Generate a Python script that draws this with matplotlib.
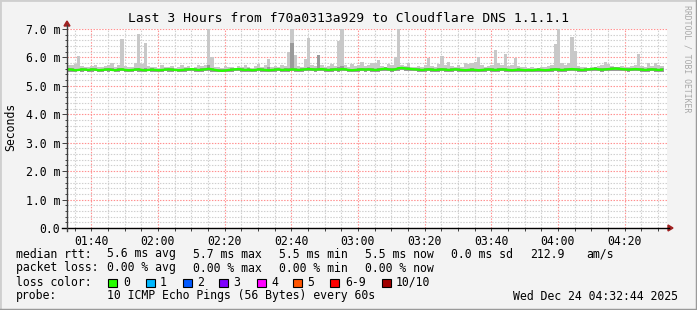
import numpy as np
import matplotlib
matplotlib.use("Agg")
import matplotlib.pyplot as plt
from matplotlib.lines import Line2D
from matplotlib.patches import Polygon, Rectangle
from matplotlib.ticker import MultipleLocator, FuncFormatter

W, H = 697, 310
nan = np.nan

# start of the 3 hour window, minutes after midnight (01:32:44)
t_start = 92 + 44 / 60.0

# smokeping data, one slot per 60 s step (values in ms)
ping_max = [
    5.72, 5.75, 5.78, 6.05, 5.70, 5.68, 5.66, 5.70, 5.75, 5.68,
    5.66, 5.70, 5.72, 5.82, 5.68, 5.75, 6.66, 5.70, 5.66, 5.68,
    5.80, 6.83, 5.78, 6.52, 5.70, 5.66, 5.68, 5.64, 5.75, 5.68,
    5.66, 5.70, 5.64, 5.68, 5.75, 5.66, 5.70, 5.64, 5.68, 5.75,
    5.70, 5.72, 7.60, 6.00, 5.68, 5.66, 5.64, 5.70, 5.66, 5.68,
    5.64, 5.70, 5.66, 5.72, 5.68, 5.64, 5.70, 5.78, 5.68, 5.73,
    5.93, 5.68, 5.70, 5.66, 5.75, 5.70, 6.20, 7.80, 6.07, 5.70,
    5.68, 5.95, 6.68, 5.72, 5.70, 6.10, 5.72, 5.68, 5.70, 5.78,
    5.70, 6.57, 7.40, 5.72, 5.68, 5.78, 5.70, 5.72, 5.85, 5.70,
    5.72, 5.80, 5.80, 5.90, 5.70, 5.68, 5.78, 5.72, 6.00, 7.50,
    5.72, 5.70, 5.80, 5.68, 5.66, 5.70, 5.68, 5.72, 5.98, 5.70,
    5.68, 5.78, 6.05, 5.72, 5.85, 5.70, 5.66, 5.75, 5.68, 5.80,
    5.78, 5.82, 5.85, 6.00, 5.72, 5.68, 5.70, 5.72, 6.25, 5.80,
    5.72, 6.12, 5.70, 5.72, 5.98, 5.70, 5.66, 5.68, 5.64, 5.66,
    5.62, 5.64, 5.66, 5.68, 5.70, 5.72, 6.47, 7.60, 5.80, 5.72,
    5.80, 6.72, 6.24, 5.70, 5.66, 5.68, 5.64, 5.66, 5.68, 5.70,
    5.72, 5.85, 5.78, 5.70, 5.68, 5.66, 5.70, 5.68, 5.66, 5.70,
    5.72, 6.12, 5.70, 5.68, 5.82, 5.70, 5.80, 5.72, 5.70, nan,
]

ping_hi2 = [
    5.63, 5.62, 5.60, 5.61, 5.63, 5.62, 5.61, 5.63, 5.62, 5.60,
    5.61, 5.62, 5.63, 5.62, 5.60, 5.62, 5.64, 5.61, 5.60, 5.61,
    5.62, 5.64, 5.61, 5.62, 5.61, 5.62, 5.61, 5.60, 5.61, 5.62,
    5.63, 5.62, 5.61, 5.60, 5.61, 5.62, 5.63, 5.64, 5.62, 5.61,
    5.62, 5.63, 5.75, 5.64, 5.61, 5.59, 5.58, 5.59, 5.61, 5.62,
    5.63, 5.64, 5.62, 5.61, 5.62, 5.60, 5.61, 5.63, 5.62, 5.61,
    5.66, 5.61, 5.62, 5.63, 5.61, 5.62, 5.64, 6.50, 5.63, 5.61,
    5.62, 5.63, 5.65, 5.63, 5.62, 6.10, 5.64, 5.62, 5.61, 5.62,
    5.63, 5.66, 5.70, 5.63, 5.61, 5.60, 5.61, 5.62, 5.63, 5.62,
    5.63, 5.62, 5.61, 5.62, 5.64, 5.65, 5.63, 5.62, 5.64, 5.68,
    5.68, 5.66, 5.65, 5.64, 5.63, 5.62, 5.61, 5.62, 5.63, 5.62,
    5.61, 5.62, 5.64, 5.62, 5.61, 5.62, 5.63, 5.62, 5.61, 5.60,
    5.61, 5.62, 5.61, 5.60, 5.61, 5.62, 5.63, 5.62, 5.61, 5.62,
    5.63, 5.62, 5.61, 5.60, 5.61, 5.62, 5.61, 5.60, 5.61, 5.60,
    5.61, 5.62, 5.61, 5.60, 5.61, 5.62, 5.63, 5.62, 5.61, 5.62,
    5.63, 5.64, 5.63, 5.62, 5.61, 5.62, 5.63, 5.64, 5.65, 5.63,
    5.62, 5.63, 5.64, 5.65, 5.66, 5.65, 5.64, 5.63, 5.62, 5.63,
    5.64, 5.63, 5.62, 5.61, 5.62, 5.63, 5.62, 5.61, 5.62, nan,
]

ping_median = [
    5.58, 5.57, 5.55, 5.56, 5.58, 5.57, 5.56, 5.58, 5.57, 5.55,
    5.56, 5.57, 5.58, 5.56, 5.55, 5.57, 5.58, 5.56, 5.55, 5.56,
    5.57, 5.58, 5.56, 5.55, 5.56, 5.57, 5.56, 5.55, 5.56, 5.57,
    5.58, 5.57, 5.56, 5.55, 5.56, 5.57, 5.58, 5.59, 5.57, 5.56,
    5.57, 5.58, 5.60, 5.58, 5.56, 5.54, 5.53, 5.54, 5.56, 5.57,
    5.58, 5.59, 5.57, 5.56, 5.57, 5.55, 5.56, 5.58, 5.57, 5.56,
    5.55, 5.56, 5.57, 5.58, 5.56, 5.57, 5.56, 5.58, 5.57, 5.56,
    5.57, 5.58, 5.59, 5.58, 5.57, 5.58, 5.59, 5.57, 5.56, 5.57,
    5.58, 5.57, 5.59, 5.58, 5.56, 5.55, 5.56, 5.57, 5.58, 5.57,
    5.58, 5.57, 5.56, 5.57, 5.59, 5.60, 5.58, 5.57, 5.58, 5.62,
    5.63, 5.61, 5.60, 5.59, 5.58, 5.57, 5.56, 5.57, 5.58, 5.57,
    5.56, 5.57, 5.58, 5.57, 5.56, 5.57, 5.58, 5.57, 5.56, 5.55,
    5.56, 5.57, 5.56, 5.55, 5.56, 5.57, 5.58, 5.57, 5.56, 5.57,
    5.58, 5.57, 5.56, 5.55, 5.56, 5.57, 5.56, 5.55, 5.56, 5.55,
    5.56, 5.57, 5.56, 5.55, 5.56, 5.57, 5.58, 5.57, 5.56, 5.57,
    5.58, 5.59, 5.58, 5.57, 5.56, 5.57, 5.58, 5.59, 5.60, 5.58,
    5.57, 5.58, 5.59, 5.60, 5.61, 5.60, 5.59, 5.58, 5.57, 5.58,
    5.59, 5.58, 5.57, 5.56, 5.57, 5.58, 5.57, 5.56, 5.57, nan,
]

ping_min = [
    5.50, 5.49, 5.47, 5.51, 5.50, 5.52, 5.50, 5.48, 5.51, 5.50,
    5.49, 5.51, 5.50, 5.52, 5.49, 5.50, 5.51, 5.50, 5.48, 5.50,
    5.51, 5.50, 5.49, 5.50, 5.51, 5.50, 5.49, 5.48, 5.50, 5.51,
    5.50, 5.49, 5.51, 5.50, 5.48, 5.50, 5.51, 5.52, 5.50, 5.49,
    5.50, 5.51, 5.52, 5.50, 5.49, 5.48, 5.47, 5.48, 5.49, 5.50,
    5.51, 5.52, 5.50, 5.49, 5.50, 5.48, 5.49, 5.51, 5.50, 5.49,
    5.48, 5.49, 5.50, 5.51, 5.49, 5.50, 5.49, 5.51, 5.50, 5.49,
    5.50, 5.51, 5.52, 5.51, 5.50, 5.51, 5.52, 5.50, 5.49, 5.50,
    5.51, 5.50, 5.52, 5.51, 5.49, 5.48, 5.49, 5.50, 5.51, 5.50,
    5.51, 5.50, 5.49, 5.50, 5.52, 5.53, 5.51, 5.50, 5.51, 5.54,
    5.55, 5.53, 5.52, 5.52, 5.51, 5.50, 5.49, 5.50, 5.51, 5.50,
    5.49, 5.50, 5.51, 5.50, 5.49, 5.50, 5.51, 5.50, 5.49, 5.48,
    5.49, 5.50, 5.49, 5.48, 5.49, 5.50, 5.51, 5.50, 5.49, 5.50,
    5.51, 5.50, 5.49, 5.48, 5.49, 5.50, 5.49, 5.48, 5.49, 5.48,
    5.49, 5.50, 5.49, 5.48, 5.49, 5.50, 5.51, 5.50, 5.49, 5.50,
    5.51, 5.52, 5.51, 5.50, 5.49, 5.50, 5.51, 5.52, 5.53, 5.51,
    5.50, 5.51, 5.52, 5.53, 5.54, 5.53, 5.52, 5.51, 5.50, 5.51,
    5.52, 5.51, 5.50, 5.49, 5.50, 5.51, 5.50, 5.49, 5.50, nan,
]

title = "Last 3 Hours from f70a0313a929 to Cloudflare DNS 1.1.1.1"
loss_labels = ["0", "1", "2", "3", "4", "5", "6-9", "10/10"]
loss_colors = ["#26ff00", "#00b8ff", "#0059ff", "#7e00ff",
               "#ff00ff", "#ff5500", "#ff0000", "#a10000"]

MONO = "DejaVu Sans Mono"
FS = 8.3


def px(x, y):
    return x / W, 1 - y / H


fig = plt.figure(figsize=(W / 100, H / 100), dpi=100)
fig.patch.set_facecolor("#f3f3f3")

x0, y0 = px(67, 228)
ax = fig.add_axes([x0, y0, 600 / W, 199 / H])
ax.set_facecolor("white")

mx = np.array(ping_max)
hi2 = np.array(ping_hi2)
med = np.array(ping_median)
mn = np.array(ping_min)
t = t_start + np.arange(len(mx))

# smoke
ax.bar(t, mx - mn, bottom=mn, width=1.0, align="edge", color="#c8c8c8",
       linewidth=0, zorder=3)
ax.bar(t, hi2 - mn, bottom=mn, width=1.0, align="edge", color="#9a9a9a",
       linewidth=0, zorder=3)
# median, coloured by loss (all 0 loss)
ax.plot(t + 0.5, med, color=loss_colors[0], lw=1.7, zorder=4,
        solid_joinstyle="miter")

ax.set_xlim(t_start, t_start + 180)
ax.set_ylim(0, 7.0)

ax.xaxis.set_major_locator(MultipleLocator(20))
ax.xaxis.set_minor_locator(MultipleLocator(5))
ax.yaxis.set_major_locator(MultipleLocator(1.0))
ax.yaxis.set_minor_locator(MultipleLocator(0.2))
ax.xaxis.set_major_formatter(FuncFormatter(
    lambda v, p: "%02d:%02d" % (int(round(v)) // 60, int(round(v)) % 60)))
ax.yaxis.set_major_formatter(FuncFormatter(
    lambda v, p: "0.0" if abs(v) < 1e-9 else "%.1f m" % v))

ax.grid(which="minor", color="#cfcfcf", lw=0.8, ls=(0, (1.3, 1.3)), zorder=1)
ax.grid(which="major", color="#ff9090", lw=0.8, ls=(0, (1.3, 1.3)), zorder=2)
ax.set_axisbelow(True)

for s in ax.spines.values():
    s.set_visible(False)

ax.tick_params(which="major", length=3.6, width=0.7, color="#404040",
               labelsize=FS, pad=1.5)
ax.tick_params(which="minor", length=1.5, width=0.7, color="#404040")
ax.tick_params(axis="x", which="both", length=2, pad=3)
for lab in ax.get_xticklabels() + ax.get_yticklabels():
    lab.set_fontfamily(MONO)

# axis lines with arrows
fig.add_artist(Line2D([62 / W, 669 / W], [1 - 228 / H] * 2, color="black",
                      lw=1.0, transform=fig.transFigure))
fig.add_artist(Line2D([67 / W] * 2, [1 - 231 / H, 1 - 25 / H], color="#404040",
                      lw=1.0, transform=fig.transFigure))
fig.add_artist(Polygon([px(668, 225), px(668, 231), px(673, 228)],
                       closed=True, color="#a02020", transform=fig.transFigure))
fig.add_artist(Polygon([px(64, 26), px(70, 26), px(67, 21)],
                       closed=True, color="#a02020", transform=fig.transFigure))

# texts
fig.text(*px(348, 18), title, family=MONO, fontsize=9.4, ha="center",
         va="center")
fig.text(*px(11, 127), "Seconds", family=MONO, fontsize=FS, rotation=90,
         ha="center", va="center")
fig.text(*px(687, 59), "RRDTOOL / TOBI OETIKER", family=MONO, fontsize=5.9,
         rotation=270, ha="center", va="center", color="#a8a8a8")

rows = [
    (254, [(16, "median rtt:"), (107, "5.6 ms avg"), (193, "5.7 ms max"),
           (279, "5.5 ms min"), (365, "5.5 ms now"), (451, "0.0 ms sd"),
           (530, "212.9"), (586, "am/s")]),
    (268, [(16, "packet loss:"), (107, "0.00 % avg"), (193, "0.00 % max"),
           (279, "0.00 % min"), (365, "0.00 % now")]),
    (282, [(16, "loss color:")]),
    (296, [(16, "probe:"), (107, "10 ICMP Echo Pings (56 Bytes) every 60s"),
           (513, "Wed Dec 24 04:32:44 2025")]),
]
for yy, items in rows:
    for xx, s in items:
        fig.text(*px(xx, yy), s, family=MONO, fontsize=FS, ha="left",
                 va="center")

box_x = [108, 146, 183, 219, 257, 293, 330, 382]
lab_x = [123, 160, 197, 233, 271, 307, 345, 396]
for bx, lx, lab, col in zip(box_x, lab_x, loss_labels, loss_colors):
    fig.add_artist(Rectangle(px(bx, 287), 8.5 / W, 8.5 / H, facecolor=col,
                             edgecolor="black", lw=0.8,
                             transform=fig.transFigure))
    fig.text(*px(lx, 282), lab, family=MONO, fontsize=FS, ha="left",
             va="center")

# 3d frame
fig.add_artist(Line2D([0, 0, 1], [0, 1, 1], color="#cfcfcf", lw=2.0,
                      transform=fig.transFigure))
fig.add_artist(Line2D([0, 1, 1], [0, 0, 1], color="#9a9a9a", lw=2.5,
                      transform=fig.transFigure))

fig.savefig("out.png", dpi=100, facecolor=fig.get_facecolor())
